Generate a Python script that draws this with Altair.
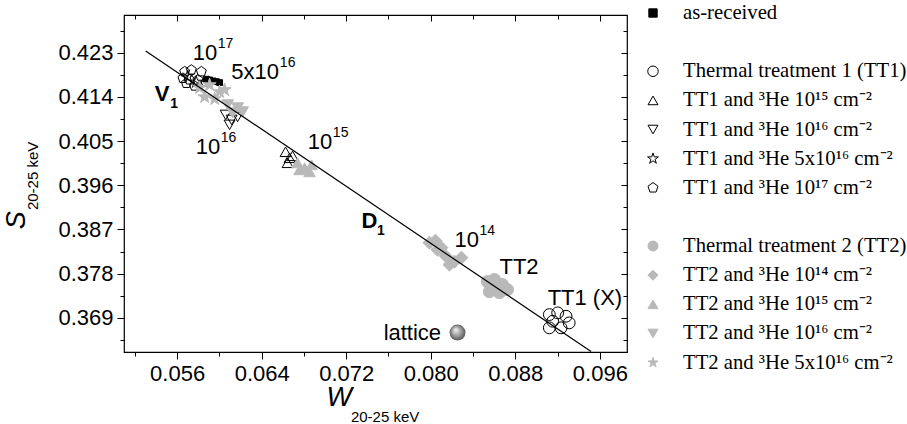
import altair as alt
import pandas as pd

W, H = 503, 337
GRAY = "#b9b9b9"
STAR = "M0,-1L0.225,-0.309L0.951,-0.309L0.363,0.118L0.588,0.809L0,0.382L-0.588,0.809L-0.363,0.118L-0.951,-0.309L-0.225,-0.309Z"
PENT = "M0,-1L0.951,-0.309L0.588,0.809L-0.588,0.809L-0.951,-0.309Z"

# ---------------- data ----------------
series_names = [
    "as-received", " ",
    "Thermal treatment 1 (TT1)",
    "TT1 and ³He 10¹⁵ cm⁻²",
    "TT1 and ³He 10¹⁶ cm⁻²",
    "TT1 and ³He 5x10¹⁶ cm⁻²",
    "TT1 and ³He 10¹⁷ cm⁻²",
    "  ",
    "Thermal treatment 2 (TT2)",
    "TT2 and ³He 10¹⁴ cm⁻²",
    "TT2 and ³He 10¹⁵ cm⁻²",
    "TT2 and ³He 10¹⁶ cm⁻²",
    "TT2 and ³He 5x10¹⁶ cm⁻²",
]
series_shapes = ["square", "circle", "circle", "triangle-up", "triangle-down", STAR, PENT,
                 "circle", "circle", "diamond", "triangle-up", "triangle-down", STAR]
series_fill = ["black", "transparent", "transparent", "transparent", "transparent", "transparent",
               "transparent", "transparent", GRAY, GRAY, GRAY, GRAY, GRAY]
series_stroke = ["black", "transparent", "black", "black", "black", "black", "black",
                 "transparent", GRAY, GRAY, GRAY, GRAY, GRAY]
series_size = [34, 10, 140, 120, 120, 160, 110, 10, 150, 170, 130, 140, 190]
legend_size = [70, 10, 110, 100, 100, 130, 110, 10, 100, 100, 100, 100, 110]

as_received_w = [0.05876, 0.05907, 0.05939, 0.05971, 0.06002]
as_received_s = [0.41759, 0.41745, 0.41725, 0.41710, 0.41690]
tt1_w = [0.09122, 0.09201, 0.09280, 0.09122, 0.09233, 0.09310, 0.09154]
tt1_s = [0.36967, 0.37002, 0.36933, 0.36697, 0.36697, 0.36798, 0.36831]
tt1_15_w = [0.06626, 0.06664, 0.06645, 0.06692]
tt1_15_s = [0.40281, 0.40159, 0.40057, 0.40199]
tt1_16_w = [0.06059, 0.06115, 0.06172, 0.06096]
tt1_16_s = [0.41033, 0.40931, 0.40992, 0.40830]
tt1_5e16_w = [0.05780, 0.05860, 0.05700]
tt1_5e16_s = [0.41700, 0.41680, 0.41820]
tt1_17_w = [0.05671, 0.05734, 0.05829, 0.05655, 0.05718, 0.05797, 0.05687, 0.05765]
tt1_17_s = [0.41914, 0.41948, 0.41914, 0.41780, 0.41748, 0.41748, 0.41678, 0.41623]
tt2_w = [0.08536, 0.08602, 0.08678, 0.08555, 0.08650, 0.08725, 0.08612]
tt2_s = [0.37638, 0.37679, 0.37577, 0.37435, 0.37414, 0.37475, 0.37536]
tt2_14_w = [0.07988, 0.08063, 0.08139, 0.08224, 0.08290, 0.08044, 0.08177, 0.08101]
tt2_14_s = [0.38431, 0.38289, 0.38167, 0.38045, 0.38126, 0.38472, 0.37984, 0.38330]
tt2_15_w = [0.06739, 0.06806, 0.06872, 0.06758, 0.06853]
tt2_15_s = [0.40057, 0.39956, 0.40017, 0.39915, 0.39874]
tt2_16_w = [0.06078, 0.06172, 0.06125, 0.06219]
tt2_16_s = [0.41237, 0.41176, 0.41074, 0.41094]
tt2_5e16_w = [0.05813, 0.05907, 0.06002, 0.05860, 0.05955, 0.06049]
tt2_5e16_s = [0.41582, 0.41643, 0.41501, 0.41399, 0.41358, 0.41542]

series_w = [as_received_w, [], tt1_w, tt1_15_w, tt1_16_w, tt1_5e16_w, tt1_17_w, [],
            tt2_w, tt2_14_w, tt2_15_w, tt2_16_w, tt2_5e16_w]
series_s = [as_received_s, [], tt1_s, tt1_15_s, tt1_16_s, tt1_5e16_s, tt1_17_s, [],
            tt2_s, tt2_14_s, tt2_15_s, tt2_16_s, tt2_5e16_s]

fit_w = [0.05302, 0.09517]
fit_s = [0.42335, 0.36215]

lattice_w = [0.08253]
lattice_s = [0.36601]

ann_base = ["10", "5x10", "10", "10", "10", "TT2", "TT1 (X)"]
ann_sup = ["17", "16", "16", "15", "14", "", ""]
ann_w = [0.05747, 0.06113, 0.05775, 0.06837, 0.08224, 0.08650, 0.09106]
ann_s = [0.42290, 0.41914, 0.40383, 0.40474, 0.38492, 0.37933, 0.37301]

bold_base = ["V", "D"]
bold_sub = ["1", "1"]
bold_w = [0.05387, 0.07345]
bold_s = [0.41460, 0.38878]

lattice_label = ["lattice"]
lattice_label_w = [0.08098]
lattice_label_s = [0.36595]

X_MAJ = [0.056, 0.064, 0.072, 0.080, 0.088, 0.096]
X_MIN = [0.052, 0.060, 0.068, 0.076, 0.084, 0.092]
Y_MAJ = [0.369, 0.378, 0.387, 0.396, 0.405, 0.414, 0.423]
Y_MIN = [0.3645, 0.3735, 0.3825, 0.3915, 0.4005, 0.4095, 0.4185, 0.4275]

# ---------------- frames ----------------
rows = []
for name, ws, ss in zip(series_names, series_w, series_s):
    for w, s in zip(ws, ss):
        rows.append({"series": name, "W": w, "S": s})
pts = pd.DataFrame(rows)
fit = pd.DataFrame({"W": fit_w, "S": fit_s})
lat = pd.DataFrame({"W": lattice_w, "S": lattice_s})
ann = pd.DataFrame({"base": ann_base, "sup": ann_sup, "W": ann_w, "S": ann_s})
bold = pd.DataFrame({"base": bold_base, "sub": bold_sub, "W": bold_w, "S": bold_s})
latl = pd.DataFrame({"t": lattice_label, "W": lattice_label_w, "S": lattice_label_s})
leg = pd.DataFrame([{"series": n, "row": i, "sym": 0, "txt": 1, "lsize": legend_size[i]}
                    for i, n in enumerate(series_names) if n.strip()])

xs = alt.Scale(domain=[0.05097, 0.09857], nice=False, zero=False)
ys = alt.Scale(domain=[0.36205, 0.43067], nice=False, zero=False)

SHAPE_SC = alt.Scale(domain=series_names, range=series_shapes)
FILL_SC = alt.Scale(domain=series_names, range=series_fill)
STROKE_SC = alt.Scale(domain=series_names, range=series_stroke)


def ax(**kw):
    base = dict(domain=False, grid=False, tickColor="black", tickWidth=1,
                labelColor="black", labelFont="Liberation Sans", labelFontSize=22,
                titleColor="black", titleFont="Liberation Sans", titleFontWeight="normal",
                labelOverlap=False, labelFlush=False)
    base.update(kw)
    return alt.Axis(**base)


NOAX_X = alt.X("W:Q", scale=xs, axis=None)
NOAX_Y = alt.Y("S:Q", scale=ys, axis=None)

axis_major = alt.Chart(fit).mark_point(opacity=0).encode(
    x=alt.X("W:Q", scale=xs, axis=ax(orient="bottom", values=X_MAJ, format=".3f", tickSize=7,
                                     labelPadding=4, title="W", titleFontStyle="italic",
                                     titleFontSize=27, titleX=214.7, titleY=53,
                                     titleAlign="center", titleBaseline="alphabetic")),
    y=alt.Y("S:Q", scale=ys, axis=ax(orient="left", values=Y_MAJ, format=".3f", tickSize=7,
                                     labelPadding=4, title="S", titleFontStyle="italic",
                                     titleFontSize=27, titleAngle=270, titleX=-100,
                                     titleY=204.8, titleAlign="center",
                                     titleBaseline="alphabetic")),
)
axis_minor = alt.Chart(fit).mark_point(opacity=0).encode(
    x=alt.X("W:Q", scale=xs, axis=ax(orient="bottom", values=X_MIN, tickSize=4, labels=False,
                                     title="20-25 keV", titleFontSize=15, titleX=226.4,
                                     titleY=69, titleAlign="left",
                                     titleBaseline="alphabetic")),
    y=alt.Y("S:Q", scale=ys, axis=ax(orient="left", values=Y_MIN, tickSize=4, labels=False,
                                     title="20-25 keV", titleFontSize=15, titleAngle=270,
                                     titleX=-86.5, titleY=194.6, titleAlign="left",
                                     titleBaseline="alphabetic")),
)
axis_in_major = alt.Chart(fit).mark_point(opacity=0).encode(
    x=alt.X("W:Q", scale=xs, axis=ax(orient="bottom", offset=-H, values=X_MAJ, tickSize=6,
                                     labels=False, title=None)),
    y=alt.Y("S:Q", scale=ys, axis=ax(orient="left", offset=-W, values=Y_MAJ, tickSize=6,
                                     labels=False, title=None)),
)
axis_in_minor = alt.Chart(fit).mark_point(opacity=0).encode(
    x=alt.X("W:Q", scale=xs, axis=ax(orient="bottom", offset=-H, values=X_MIN, tickSize=4,
                                     labels=False, title=None)),
    y=alt.Y("S:Q", scale=ys, axis=ax(orient="left", offset=-W, values=Y_MIN, tickSize=4,
                                     labels=False, title=None)),
)

points = alt.Chart(pts).mark_point(opacity=1, strokeWidth=1).encode(
    x=NOAX_X, y=NOAX_Y,
    shape=alt.Shape("series:N", scale=SHAPE_SC, legend=None),
    fill=alt.Fill("series:N", scale=FILL_SC, legend=None),
    stroke=alt.Stroke("series:N", scale=STROKE_SC, legend=None),
    size=alt.Size("series:N", scale=alt.Scale(type="ordinal", domain=series_names,
                                              range=series_size), legend=None),
)

sphere = alt.Chart(lat).mark_circle(
    size=256, opacity=1,
    color=alt.RadialGradient(
        gradient="radial",
        stops=[alt.GradientStop(color="#f2f2f2", offset=0),
               alt.GradientStop(color="#a0a0a0", offset=0.5),
               alt.GradientStop(color="#4d4d4d", offset=1)],
        x1=0.38, y1=0.32, r1=0.02, x2=0.5, y2=0.5, r2=0.55),
).encode(x=NOAX_X, y=NOAX_Y)

line = alt.Chart(fit).mark_line(color="black", strokeWidth=1.2).encode(x=NOAX_X, y=NOAX_Y)

TXT = dict(font="Liberation Sans", color="black", baseline="middle")
ann_txt = alt.Chart(ann).mark_text(align="left", fontSize=22, **TXT).encode(
    x=NOAX_X, y=NOAX_Y, text="base:N")
sup10 = alt.Chart(ann).transform_filter(alt.datum.base == "10").mark_text(
    align="left", fontSize=14, dx=25, dy=-9, **TXT).encode(x=NOAX_X, y=NOAX_Y, text="sup:N")
sup5 = alt.Chart(ann).transform_filter(alt.datum.base == "5x10").mark_text(
    align="left", fontSize=14, dx=48.5, dy=-9, **TXT).encode(x=NOAX_X, y=NOAX_Y, text="sup:N")
bold_txt = alt.Chart(bold).mark_text(align="left", fontSize=22, fontWeight="bold", **TXT).encode(
    x=NOAX_X, y=NOAX_Y, text="base:N")
bold_sub_txt = alt.Chart(bold).mark_text(align="left", fontSize=14, fontWeight="bold", dx=15.5,
                                         dy=10, **TXT).encode(x=NOAX_X, y=NOAX_Y, text="sub:N")
lat_txt = alt.Chart(latl).mark_text(align="right", fontSize=22, **TXT).encode(
    x=NOAX_X, y=NOAX_Y, text="t:N")

# ---------------- legend (drawn through its own scales) ----------------
LEG_X = alt.Scale(domain=[0, 1], range=[529, 559])
LEG_Y = alt.Scale(domain=[0, 12], range=[-2, 347.6])
leg_sym = alt.Chart(leg).mark_point(opacity=1, strokeWidth=1).encode(
    x=alt.X("sym:Q", scale=LEG_X, axis=None),
    y=alt.Y("row:Q", scale=LEG_Y, axis=None),
    shape=alt.Shape("series:N", scale=SHAPE_SC, legend=None),
    fill=alt.Fill("series:N", scale=FILL_SC, legend=None),
    stroke=alt.Stroke("series:N", scale=STROKE_SC, legend=None),
    size=alt.Size("lsize:Q", scale=None, legend=None),
)
leg_txt = alt.Chart(leg).mark_text(align="left", baseline="middle", font="Liberation Serif",
                                   fontSize=20.7, color="black").encode(
    x=alt.X("txt:Q", scale=LEG_X, axis=None),
    y=alt.Y("row:Q", scale=LEG_Y, axis=None),
    text="series:N",
)

chart = alt.layer(
    axis_major, axis_minor, axis_in_major, axis_in_minor,
    points, sphere, line, ann_txt, sup10, sup5, bold_txt, bold_sub_txt, lat_txt,
    leg_sym, leg_txt,
).resolve_scale(x="independent", y="independent").resolve_axis(
    x="independent", y="independent").properties(
    width=W, height=H,
    autosize=alt.AutoSizeParams(type="none"),
    padding={"left": 124, "top": 15, "right": 907 - 124 - W, "bottom": 424 - 15 - H},
    background="white",
).configure_view(stroke="black", strokeWidth=1.2)

chart.save("out.html", embed_options={"renderer": "svg", "actions": False})
